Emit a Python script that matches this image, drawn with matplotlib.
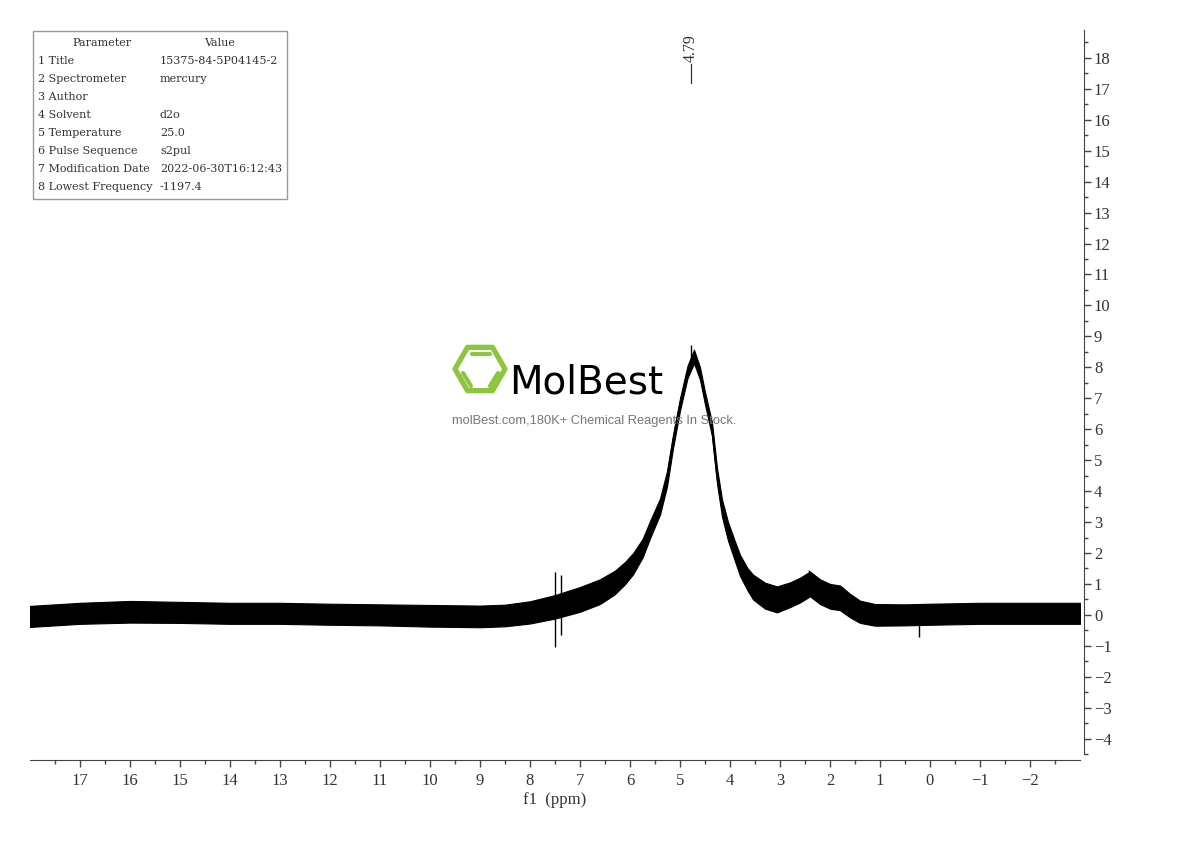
import matplotlib
matplotlib.use("Agg")
import matplotlib.pyplot as plt
from matplotlib.patches import Rectangle, Polygon
import numpy as np

# spectrum (ppm, centre of the noisy trace, half height of the noise band)
ppm = [18.0, 17.0, 16.0, 15.0, 14.0, 13.0, 12.0, 11.0, 10.0, 9.0, 8.5, 8.0, 7.5, 7.0,
       6.6, 6.3, 6.1, 5.94, 5.75, 5.6, 5.4, 5.26, 5.14, 5.0, 4.85, 4.72, 4.6, 4.5, 4.36, 4.26,
       4.16, 4.04, 3.9, 3.8, 3.65, 3.54, 3.3, 3.06, 2.8, 2.6, 2.4, 2.2, 2.0, 1.8, 1.6, 1.4, 1.1,
       0.5, 0.0, -1.0, -2.0, -3.0]
intensity = [-0.05, 0.05, 0.1, 0.08, 0.05, 0.05, 0.02, 0.0, -0.03, -0.05, -0.02, 0.08, 0.26, 0.5,
             0.75, 1.05, 1.35, 1.65, 2.15, 2.75, 3.5, 4.4, 5.6, 6.8, 7.85, 8.35, 7.8, 7.0, 6.0, 4.5,
             3.45, 2.7, 2.05, 1.6, 1.15, 0.9, 0.62, 0.5, 0.65, 0.8, 1.0, 0.75, 0.6, 0.55, 0.3, 0.1, 0.0,
             0.0, 0.02, 0.05, 0.05, 0.05]
noise = [0.34, 0.34, 0.35, 0.34, 0.34, 0.34, 0.34, 0.34, 0.35, 0.35, 0.35, 0.36, 0.38, 0.4,
         0.4, 0.38, 0.36, 0.34, 0.3, 0.28, 0.26, 0.25, 0.22, 0.2, 0.2, 0.22, 0.2, 0.2, 0.22, 0.25,
         0.28, 0.3, 0.32, 0.34, 0.36, 0.4, 0.42, 0.42, 0.4, 0.4, 0.4, 0.4, 0.4, 0.4, 0.38, 0.36, 0.35,
         0.34, 0.34, 0.34, 0.34, 0.34]

# single sharp lines sticking out of the band
spike_ppm = [7.50, 7.38, 4.79, 0.23, 2.42]
spike_top = [1.4, 1.3, 8.73, 0.2, 1.45]
spike_bottom = [-1.03, -0.65, 8.0, -0.7, 0.9]

peak_label = 4.79

params = ["Title", "Spectrometer", "Author", "Solvent", "Temperature",
          "Pulse Sequence", "Modification Date", "Lowest Frequency"]
values = ["15375-84-5P04145-2", "mercury", "", "d2o", "25.0",
          "s2pul", "2022-06-30T16:12:43", "-1197.4"]

W, H = 1190, 841


def fx(px):
    return px / W


def fy(py):
    return 1 - py / H


serif = ["Liberation Serif", "DejaVu Serif"]
table_font = ["DejaVu Serif"]
axis_col = "#444444"
text_col = "#333333"

fig = plt.figure(figsize=(W / 100, H / 100), dpi=100)
ax = fig.add_axes([fx(30), fy(760), 1050 / W, 730 / H])

x = np.array(ppm)
y = np.array(intensity)
n = np.array(noise)
ax.fill_between(x, y - n, y + n, color="black", lw=0.8, zorder=3)
ax.plot(x, y, color="black", lw=1.2, zorder=3)
ax.vlines(spike_ppm, spike_bottom, spike_top, color="black", lw=1.0, zorder=3)

ax.set_xlim(18.0, -3.0)
ax.set_ylim(-4.69, 18.9)

for s in ["top", "left"]:
    ax.spines[s].set_visible(False)
ax.spines["bottom"].set_color(axis_col)
ax.spines["right"].set_color(axis_col)
ax.spines["right"].set_bounds(-4.5, 18.9)
ax.spines["right"].set_position(("outward", 3))

ax.set_xticks(np.arange(17, -3, -1))
ax.set_xticks(np.arange(17.5, -3.0, -0.5), minor=True)
ax.set_yticks(np.arange(-4, 19, 1))
ax.set_yticks(np.arange(-4.5, 19.0, 0.5), minor=True)
ax.yaxis.tick_right()
ax.tick_params(axis="both", which="major", length=5, width=1, color=axis_col,
               labelcolor=text_col, labelsize=12)
ax.tick_params(axis="both", which="minor", length=3, width=1, color=axis_col)
ax.tick_params(axis="x", pad=4.5)
ax.tick_params(axis="y", pad=2)
for lab in ax.get_xticklabels() + ax.get_yticklabels():
    lab.set_family(serif)

ax.set_xlabel("f1  (ppm)", family=serif, fontsize=12, color=text_col, labelpad=2)

# peak pick label
ax.plot([peak_label, peak_label], [17.2, 17.8], color=text_col, lw=0.9)
ax.text(peak_label, 17.87, f"{peak_label:.2f}", rotation=90, ha="center", va="bottom",
        family=serif, fontsize=11.5, color=text_col)

# parameter table
fig.patches.append(Rectangle((fx(33), fy(199)), 254 / W, 168 / H, transform=fig.transFigure,
                             fill=False, edgecolor="#999999", lw=1))
fs = 8.0
fig.text(fx(102), fy(43), "Parameter", ha="center", va="center", family=table_font, fontsize=fs,
         color=text_col)
fig.text(fx(220), fy(43), "Value", ha="center", va="center", family=table_font, fontsize=fs,
         color=text_col)
for i, (p, v) in enumerate(zip(params, values)):
    yy = fy(61 + 18 * i)
    fig.text(fx(38), yy, f"{i + 1} {p}", ha="left", va="center", family=table_font, fontsize=fs,
             color=text_col)
    fig.text(fx(160), yy, v, ha="left", va="center", family=table_font, fontsize=fs,
             color=text_col)

# watermark
green = "#8cc63f"
lax = fig.add_axes([fx(448), fy(398), 64 / W, 58 / H])
lax.set_xlim(448, 512)
lax.set_ylim(398, 340)
lax.axis("off")
cx, cy, r = 480, 369, 25
ang = np.deg2rad(np.arange(0, 360, 60))
hexagon = np.column_stack([cx + r * np.cos(ang), cy + r * np.sin(ang)])
lax.add_patch(Polygon(hexagon, closed=True, fill=False, edgecolor=green, lw=3.8,
                      joinstyle="round"))
lax.plot([472, 490], [354, 354], color=green, lw=3, solid_capstyle="round")
lax.plot([463, 471], [373, 386], color=green, lw=3, solid_capstyle="round")
lax.plot([498, 490], [373, 386], color=green, lw=3, solid_capstyle="round")

fig.text(fx(509), fy(394), "MolBest", ha="left", va="baseline", fontsize=28,
         family="DejaVu Sans", color="black")
fig.text(fx(594), fy(421), "molBest.com,180K+ Chemical Reagents In Stock.", ha="center",
         va="center", fontsize=9.3, family="Liberation Sans", color="#777777")

fig.savefig("out.png", dpi=100, facecolor="white")
